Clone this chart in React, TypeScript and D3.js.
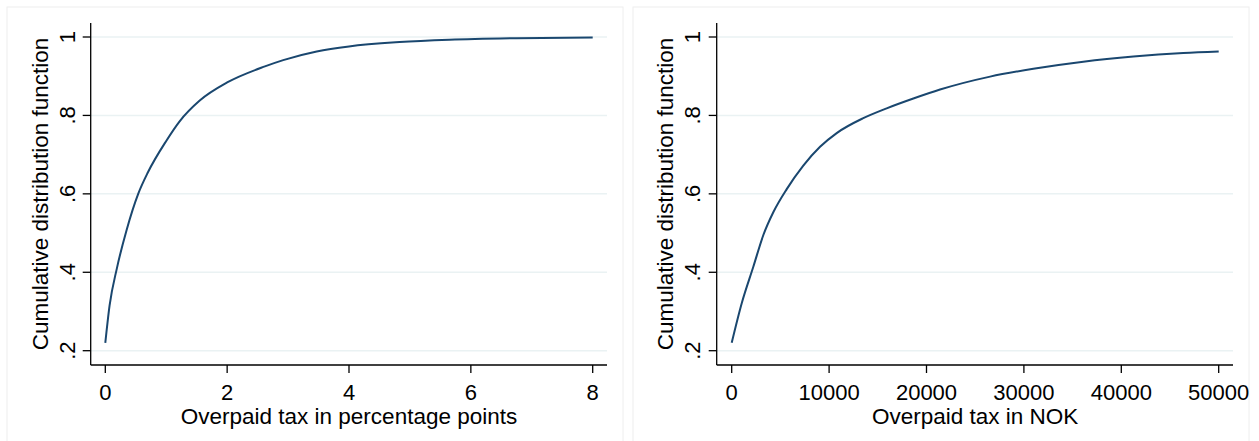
import React from "react";
import * as d3 from "d3";

// Left panel: overpaid tax in percentage points
const ppX = [0, 0.07, 0.19, 0.35, 0.54, 0.7, 1.0, 1.22, 1.55, 2.0, 2.62, 2.92, 3.47, 4.0, 4.83, 5.65, 6.74, 8.0];
const ppY = [0.22, 0.315, 0.41, 0.508, 0.6, 0.655, 0.735, 0.785, 0.838, 0.884, 0.925, 0.941, 0.963, 0.976, 0.987, 0.993, 0.997, 0.999];
const ppTicks = [0, 2, 4, 6, 8];

// Right panel: overpaid tax in NOK
const nokX = [0, 1030, 2220, 3250, 4270, 5650, 7350, 9070, 10780, 13510, 15910, 18650, 21390, 26530, 30970, 36100, 41240, 46370, 50000];
const nokY = [0.22, 0.321, 0.414, 0.495, 0.553, 0.612, 0.672, 0.72, 0.755, 0.793, 0.818, 0.843, 0.866, 0.899, 0.919, 0.937, 0.95, 0.959, 0.963];
const nokTicks = [0, 10000, 20000, 30000, 40000, 50000];

const yTicks = [0.2, 0.4, 0.6, 0.8, 1];
const yTickLabels = [".2", ".4", ".6", ".8", "1"];
const yTitle = "Cumulative distribution function";

const FONT = "Arial, 'Liberation Sans', Helvetica, sans-serif";
const LINE = "#1a476f";

type PanelProps = {
  frame: [number, number, number, number];
  axisX: number;
  axisRight: number;
  range: [number, number];
  domain: [number, number];
  xs: number[];
  ys: number[];
  ticks: number[];
  title: string;
  yLabelX: number;
  yTitleX: number;
};

function Panel(p: PanelProps) {
  const x = d3.scaleLinear().domain(p.domain).range(p.range);
  const y = d3.scaleLinear().domain([0.2, 1]).range([350.7, 37]);
  const pts = p.xs.map((v, i) => [v, p.ys[i]] as [number, number]);
  const line = d3
    .line<[number, number]>()
    .x((d) => x(d[0]))
    .y((d) => y(d[1]))
    .curve(d3.curveMonotoneX);
  const axisY = 365;
  const [fx, fy, fw, fh] = p.frame;
  return (
    <g>
      <rect x={fx} y={fy} width={fw} height={fh} fill="#fff" stroke="#eeeeee" strokeWidth={1} />
      {yTicks.map((t) => (
        <line key={"g" + t} x1={p.axisX} x2={p.axisRight} y1={y(t)} y2={y(t)} stroke="#eaf2f3" strokeWidth={1.5} />
      ))}
      <line x1={p.axisX} x2={p.axisX} y1={23} y2={axisY} stroke="#000" strokeWidth={1.3} />
      <line x1={p.axisX} x2={p.axisRight} y1={axisY} y2={axisY} stroke="#000" strokeWidth={1.3} />
      {yTicks.map((t, i) => (
        <g key={"y" + t}>
          <line x1={p.axisX - 8} x2={p.axisX} y1={y(t)} y2={y(t)} stroke="#000" strokeWidth={1.3} />
          <text
            transform={`translate(${p.yLabelX},${y(t)}) rotate(-90)`}
            textAnchor="middle"
            dominantBaseline="central"
            fontFamily={FONT}
            fontSize={22}
            fill="#000"
          >
            {yTickLabels[i]}
          </text>
        </g>
      ))}
      {p.ticks.map((t) => (
        <g key={"x" + t}>
          <line x1={x(t)} x2={x(t)} y1={axisY} y2={axisY + 8} stroke="#000" strokeWidth={1.3} />
          <text x={x(t)} y={400} textAnchor="middle" fontFamily={FONT} fontSize={22} fill="#000">
            {String(t)}
          </text>
        </g>
      ))}
      <text
        x={(p.range[0] + p.range[1]) / 2}
        y={424}
        textAnchor="middle"
        fontFamily={FONT}
        fontSize={22.5}
        fill="#000"
      >
        {p.title}
      </text>
      <text
        transform={`translate(${p.yTitleX},194) rotate(-90)`}
        textAnchor="middle"
        dominantBaseline="central"
        fontFamily={FONT}
        fontSize={22.5}
        fill="#000"
      >
        {yTitle}
      </text>
      <path d={line(pts) || ""} fill="none" stroke={LINE} strokeWidth={2} />
    </g>
  );
}

export default function App() {
  return (
    <svg
      width={1259}
      height={441}
      style={{ position: "absolute", left: 0, top: 0, background: "#fff" }}
    >
      <rect x={0} y={0} width={1259} height={441} fill="#fff" />
      <Panel
        frame={[7, 7, 616, 440]}
        axisX={90.7}
        axisRight={607}
        range={[105.3, 592.7]}
        domain={[0, 8]}
        xs={ppX}
        ys={ppY}
        ticks={ppTicks}
        title="Overpaid tax in percentage points"
        yLabelX={67}
        yTitleX={40}
      />
      <Panel
        frame={[633, 7, 616, 440]}
        axisX={716.7}
        axisRight={1233}
        range={[731.7, 1218.7]}
        domain={[0, 50000]}
        xs={nokX}
        ys={nokY}
        ticks={nokTicks}
        title="Overpaid tax in NOK"
        yLabelX={692}
        yTitleX={665}
      />
    </svg>
  );
}
